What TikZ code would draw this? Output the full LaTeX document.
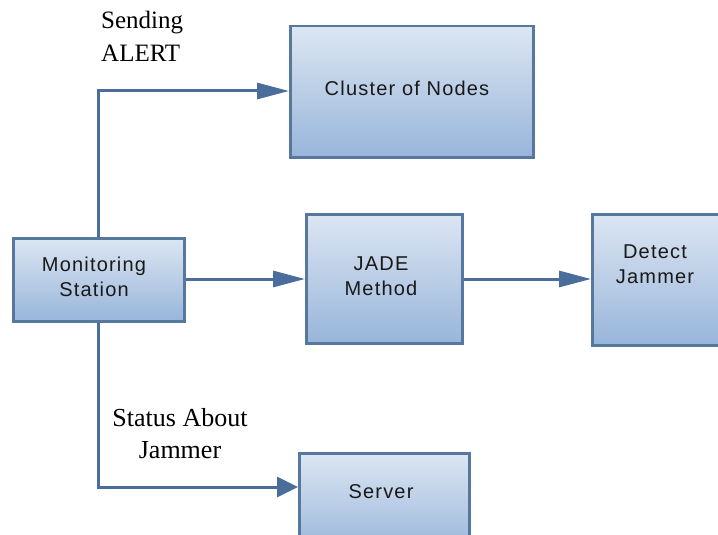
\documentclass[tikz,border=0pt]{standalone}
\usepackage{fontspec}
\setmainfont{Liberation Serif}
\newfontfamily\boxfont[LetterSpace=6]{Liberation Sans}
\usetikzlibrary{arrows.meta}

\definecolor{edgeblue}{HTML}{4A6D9C}
\definecolor{boxtop}{HTML}{DCE6F2}
\definecolor{boxbot}{HTML}{98B5DA}
\definecolor{boxline}{HTML}{56789F}

\begin{document}
\begin{tikzpicture}[x=1pt,y=-1pt,
  box/.style={rectangle, draw=boxline, line width=2.5pt,
    top color=boxtop, bottom color=boxbot,
    anchor=north west, inner sep=0pt},
  boxtext/.style={font=\boxfont\fontsize{20}{25}\selectfont,
    align=center, inner sep=0pt, text=black!90},
  link/.style={draw=edgeblue, line width=3pt,
    -{Triangle[length=32pt,width=16pt]}},
  shortlink/.style={link, -{Triangle[length=21pt,width=20pt]}},
  note/.style={font=\fontsize{25}{33}\selectfont, inner sep=0pt}]

\useasboundingbox (0,0) rectangle (718,535);

% boxes
\node[box, minimum width=243pt, minimum height=131pt] (cluster) at (289,25) {};
\node[box, minimum width=171pt, minimum height=83pt]  (mon)     at (12,237) {};
\node[box, minimum width=156pt, minimum height=129pt] (jade)    at (305,213) {};
\node[box, minimum width=130pt, minimum height=131pt] (det)     at (591,213) {};
\node[box, minimum width=170pt, minimum height=100pt] (server)  at (298,452) {};

% box captions
\node[boxtext] (clustertxt) at (407,88)  {Cluster of Nodes};
\node[boxtext] (montxt)     at (94,277)  {Monitoring\\Station};
\node[boxtext] (jadetxt)    at (381,276) {JADE\\Method};
\node[boxtext] (dettxt)     at (655,264) {Detect\\Jammer};
\node[boxtext] (servertxt)  at (381,492) {Server};

% connectors
\coordinate (upbend)  at (98,91);
\coordinate (lowbend) at (98,487);
\draw[link] (mon.north -| upbend) -- (upbend) -- (upbend -| cluster.west);
\draw[link] (mon.east |- 0,279) -- (jade.west |- 0,279);
\draw[link] (jade.east |- 0,279) -- (det.west |- 0,279);
\draw[shortlink] (mon.south -| lowbend) -- (lowbend) -- (lowbend -| server.west);

% edge notes
\node[note, align=left, anchor=north west] (sendnote) at (101,11) {Sending\\ALERT};
\node[note, align=center, anchor=north, font=\fontsize{26}{32}\selectfont] (statusnote) at (180,408) {Status About\\Jammer};
\end{tikzpicture}
\end{document}
